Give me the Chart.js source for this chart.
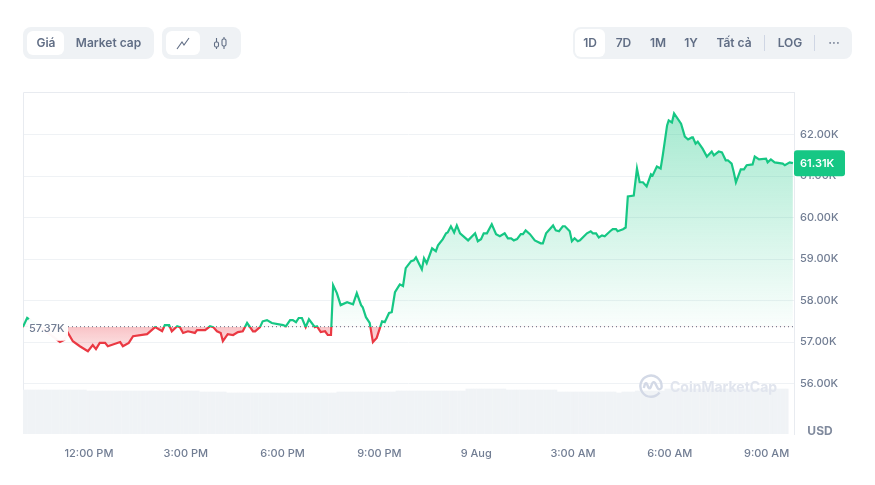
<!DOCTYPE html>
<html>
<head>
<meta charset="utf-8">
<script src="https://cdn.jsdelivr.net/npm/chart.js@4/dist/chart.umd.min.js"></script>
<style>
   html, body { margin: 0; padding: 0; background: #fff; width: 875px; height: 485px; overflow: hidden; }
   body { font-family: Inter, sans-serif; color: #616e85; position: relative; }
   #chart { position: absolute; left: 0; top: 0; }
   .group { position: absolute; top: 27px; height: 32px; background: #eff2f5; border-radius: 8px; }
   .active { position: absolute; background: #fff; border-radius: 6px; }
   .btn { position: absolute; top: 27px; height: 32px; line-height: 32px; font-size: 12px; font-weight: 600; transform: translateX(-50%); white-space: nowrap; }
   .sep { position: absolute; top: 35px; width: 1px; height: 16px; background: #cfd6e4; }
   .icon { position: absolute; top: 35px; }
   #logo { position: absolute; left: 639px; top: 374px; }
   #brand { position: absolute; left: 670px; top: 377px; font-size: 14px; font-weight: 700; line-height: 20px; color: #e1e5ee; }
</style>
</head>
<body>
<canvas id="chart" width="875" height="485"></canvas>

<div class="group" style="left:23px;width:131px"></div>
<div class="active" style="left:27px;top:31px;width:37px;height:24px"></div>
<div class="btn" style="left:46px">Giá</div>
<div class="btn" style="left:108.5px">Market cap</div>

<div class="group" style="left:162px;width:79px"></div>
<div class="active" style="left:166px;top:31px;width:34px;height:24px"></div>
<svg class="icon" style="left:175px" width="16" height="16" viewBox="0 0 16 16" fill="none" stroke="#616e85" stroke-width="1.1">
   <path d="M2 14 L7 7 L9 10 L14 3"/>
</svg>
<svg class="icon" style="left:212px" width="16" height="16" viewBox="0 0 16 16" fill="none" stroke="#616e85" stroke-width="1.1">
   <rect x="2.5" y="7" width="4" height="5" rx="1.5"/><path d="M4.5 3 V7 M4.5 12 V14"/>
   <rect x="10" y="4" width="4" height="7" rx="1.5"/><path d="M12 2 V4 M12 11 V14"/>
</svg>

<div class="group" style="left:573px;width:279px"></div>
<div class="active" style="left:575px;top:29px;width:30px;height:28px"></div>
<div class="btn" style="left:590px">1D</div>
<div class="btn" style="left:623.5px">7D</div>
<div class="btn" style="left:658px">1M</div>
<div class="btn" style="left:691px">1Y</div>
<div class="btn" style="left:734px">Tất cả</div>
<div class="sep" style="left:764px"></div>
<div class="btn" style="left:790px">LOG</div>
<div class="sep" style="left:814px"></div>
<div class="btn" style="left:834px;color:#808a9d">···</div>

<svg id="logo" width="24" height="24" viewBox="0 0 24 24" fill="none" stroke="#d3d9e6" stroke-width="2.4">
   <path d="M20.5 18.5 A10.6 10.6 0 1 1 22.6 12 V13 C22.6 15.5 19.6 16 18.6 14 L16 9 C15 7.6 13.8 8 13.2 9.4 L11.6 13.4 C11 14.6 10 14.6 9.4 13.4 L8 10 C7.4 8.8 6.4 9 5.9 10.2 L4.8 14"/>
</svg>
<div id="brand">CoinMarketCap</div>

<script>
'use strict';

// minutes from 12:00 PM on 8 Aug
var priceMinutes = [-123,-115,-104,-91,-73,-54,-46,-39,-30,-17,-2,7,13,20,30,35,58,63,74,82,
   108,123,136,141,149,154,164,169,175,184,197,201,216,225,231,238,245,249,258,268,
   277,286,294,305,309,318,323,331,340,361,366,374,379,385,390,396,403,409,420,424,
   431,439,444,450,454,461,468,480,491,498,506,509,515,522,528,535,545,550,558,563,
   569,578,584,589,599,604,608,619,623,628,638,645,649,658,664,667,673,679,684,690,
   705,718,723,729,734,740,749,757,764,773,779,785,790,796,803,807,812,820,829,840,
   844,850,863,868,874,881,885,894,898,903,909,913,926,933,937,943,948,954,959,969,
   974,980,983,993,998,1002,1013,1019,1024,1030,1037,1045,1048,1056,1063,1067,1075,1078,1084,1088,
   1101,1108,1114,1121,1123,1128,1132,1141,1149,1158,1162,1171,1177,1184,1188,1195,1199,1203,1212,1218,
   1223,1234,1238,1246,1259,1262,1268,1275,1290,1294,1303,1309];

// BTC price in thousands of USD
var priceValues = [57.36,57.58,57.48,57.38,57.19,57.00,57.05,57.22,57.02,56.90,56.78,56.93,56.83,56.98,56.98,56.90,57.00,56.90,56.98,57.14,
   57.19,57.36,57.26,57.41,57.41,57.26,57.38,57.36,57.22,57.26,57.22,57.29,57.29,57.38,57.36,57.26,57.22,57.02,57.19,57.17,
   57.24,57.26,57.46,57.26,57.26,57.36,57.50,57.53,57.46,57.41,57.38,57.53,57.53,57.48,57.58,57.58,57.36,57.55,57.36,57.38,
   57.24,57.26,57.17,57.17,58.37,58.18,57.89,57.96,57.91,58.18,57.89,57.84,57.60,57.46,57.00,57.10,57.50,57.48,57.70,57.72,
   58.20,58.39,58.35,58.78,58.95,58.97,59.04,58.75,59.02,58.90,59.26,59.19,59.33,59.48,59.62,59.64,59.79,59.64,59.81,59.62,
   59.45,59.62,59.43,59.48,59.62,59.62,59.84,59.60,59.55,59.62,59.50,59.50,59.45,59.48,59.60,59.60,59.69,59.60,59.45,59.38,
   59.38,59.62,59.81,59.69,59.67,59.79,59.79,59.67,59.43,59.50,59.43,59.45,59.62,59.67,59.62,59.62,59.52,59.57,59.55,59.67,
   59.72,59.72,59.67,59.72,59.76,60.51,60.53,61.18,60.85,60.85,60.75,61.04,61.01,61.23,61.18,61.50,62.22,62.34,62.29,62.51,
   62.26,61.95,61.88,61.93,61.93,61.78,61.83,61.66,61.47,61.59,61.50,61.59,61.57,61.38,61.38,61.30,61.09,60.85,61.16,61.16,
   61.26,61.28,61.47,61.40,61.42,61.33,61.40,61.33,61.30,61.26,61.33,61.31];

// 5 minute volume bars, first one sits at volumeStart
var volumeStart = -122;
var volumeStep = 5;
var volumeValues = [
   22,22,22,22,22,22,22,22,22,22,22,22,22,22,22,22,22,22,22,22,22,22,22,22,
   21.5,21.5,21.5,21.5,21.5,21.5,21.5,21.5,21.5,21.5,21.5,21.5,21.5,21.5,21.5,21.5,21.5,21.5,21.5,21.5,21.5,
   21.5,21.5,21.5,21.5,21.5,21.5,21.5,21.5,21.5,21.5,21.5,21.5,21.5,21.5,21.5,21.5,21.5,21.5,21.5,21.5,21.5,
   21,21,21,21,21,21,21,21,21,21,
   20.5,20.5,20.5,20.5,20.5,20.5,20.5,20.5,20.5,20.5,20.5,20.5,20.5,20.5,20.5,20.5,20.5,20.5,20.5,20.5,20.5,
   20.5,20.5,20.5,20.5,20.5,20.5,20.5,20.5,20.5,20.5,20.5,20.5,20.5,20.5,20.5,20.5,20.5,20.5,20.5,20.5,
   21,21,21,21,21,21,21,21,21,21,21,21,21,21,21,21,21,21,21,21,21,21,
   21.5,21.5,21.5,21.5,21.5,21.5,21.5,21.5,21.5,21.5,21.5,21.5,21.5,21.5,21.5,21.5,21.5,21.5,21.5,21.5,21.5,21.5,21.5,21.5,21.5,21.5,
   22.5,22.5,22.5,22.5,22.5,22.5,22.5,22.5,22.5,22.5,22.5,22.5,22.5,22.5,22.5,
   22,22,22,22,22,22,22,22,22,22,22,22,22,22,22,22,22,22,22,
   21,21,21,21,21,21,21,21,21,21,21,21,21,21,21,21,21,21,21,21,21,21,
   20.5,20.5,21,21,21,21,21,
   21.5,21.5,21.5,21.5,21.5,21.5,21.5,21.5,21.5,21.5,21.5,
   22.5,22.5,22.5,22.5,22.5,22.5,22.5,22.5,22.5,22.5,22.5,22.5,22.5,22.5,22.5,22.5,22.5,22.5,22.5,22.5,22.5,22.5,22.5,
   22.5,22.5,22.5,22.5,22.5,22.5,22.5,22.5,22.5,22.5,22.5,22.5,22.5,22.5,22.5,22.5,22.5,22.5,22.5,22.5,22.5,22.5,22.5];

var xTickMinutes = [0, 180, 360, 540, 720, 900, 1080, 1260];
var xTickLabels = ['12:00 PM', '3:00 PM', '6:00 PM', '9:00 PM', '9 Aug', '3:00 AM', '6:00 AM', '9:00 AM'];
var yTicks = [56, 57, 58, 59, 60, 61, 62];

var openPrice = 57.37;
var lastPrice = 61.31;
var baselineStart = -39;
var xMin = -122.7, xMax = 1311;

var GREEN = '#16c784', RED = '#ea3943', TEXT = '#717d93', GRID = '#eff2f5';

var fmt = function (v) { return v.toFixed(2) + 'K'; };

// opening price label, last price tag, USD and the frame
var overlays = {
   id: 'overlays',
   beforeDatasetsDraw: function (chart) {
      var c = chart.ctx, a = chart.chartArea;
      c.save();
      c.strokeStyle = '#e8ebf0';
      c.lineWidth = 1;
      c.beginPath();
      c.moveTo(a.left + 0.5, a.bottom);
      c.lineTo(a.left + 0.5, a.top + 0.5);
      c.lineTo(a.right, a.top + 0.5);
      c.stroke();
      c.restore();
   },
   afterDraw: function (chart) {
      var c = chart.ctx, a = chart.chartArea, y = chart.scales.y;
      var yOpen = y.getPixelForValue(openPrice), yLast = y.getPixelForValue(lastPrice);
      c.save();
      c.textBaseline = 'middle';

      c.fillStyle = 'rgba(255,255,255,0.96)';
      c.beginPath();
      c.roundRect(a.left + 5, yOpen - 9, 40, 23, 4);
      c.fill();
      c.fillStyle = TEXT;
      c.font = '500 11px Inter';
      c.textAlign = 'left';
      c.fillText(fmt(openPrice), a.left + 6, yOpen + 2);

      c.fillStyle = GREEN;
      c.beginPath();
      c.roundRect(a.right, yLast - 13, 51, 26, 3);
      c.fill();
      c.fillStyle = '#fff';
      c.font = '600 11px Inter';
      c.fillText(fmt(lastPrice), a.right + 6, yLast + 0.5);

      c.fillStyle = '#808a9d';
      c.font = '700 12px Inter';
      c.textAlign = 'center';
      c.fillText('USD', 820, a.bottom - 3);
      c.restore();
   }
};

var chart = new Chart(document.getElementById('chart').getContext('2d'), {
   data: {
      datasets: [
         {
            type: 'line',
            order: 1,
            data: priceMinutes.map(function (m, i) { return { x: m, y: priceValues[i] }; }),
            borderColor: GREEN,
            borderWidth: 2.2,
            pointRadius: 0,
            tension: 0,
            fill: { target: { value: openPrice }, above: 'rgba(22,199,132,0.2)', below: 'rgba(234,57,67,0.2)' }
         },
         {
            type: 'line',
            order: 2,
            data: [{ x: baselineStart, y: openPrice }, { x: xMax, y: openPrice }],
            borderColor: '#58667e',
            borderWidth: 1,
            borderDash: [1, 3],
            pointRadius: 0,
            fill: false
         },
         {
            type: 'bar',
            order: 3,
            yAxisID: 'vol',
            data: volumeValues.map(function (v, i) { return { x: volumeStart + i * volumeStep, y: v }; }),
            backgroundColor: '#f0f3f6',
            barThickness: 2.4
         }
      ]
   },
   options: {
      responsive: false,
      animation: false,
      layout: { padding: { left: 23, top: 92 } },
      plugins: { legend: { display: false }, tooltip: { enabled: false } },
      scales: {
         x: {
            type: 'linear',
            offset: false,
            min: xMin,
            max: xMax,
            afterBuildTicks: function (axis) {
               axis.ticks = xTickMinutes.map(function (m) { return { value: m }; });
            },
            afterFit: function (axis) { axis.height = 51; },
            grid: { display: false },
            border: { display: false },
            ticks: {
               autoSkip: false,
               maxRotation: 0,
               padding: 5,
               color: TEXT,
               font: { family: 'Inter', size: 11, weight: 500 },
               callback: function (v, i) { return xTickLabels[i]; }
            }
         },
         y: {
            position: 'right',
            min: 54.785,
            max: 63.025,
            afterBuildTicks: function (axis) {
               axis.ticks = yTicks.map(function (v) { return { value: v }; });
            },
            afterFit: function (axis) { axis.width = 81; },
            grid: { color: GRID, drawTicks: false },
            border: { color: '#e8ebf0' },
            ticks: {
               padding: 6,
               color: TEXT,
               font: { family: 'Inter', size: 11, weight: 500 },
               callback: function (v) { return fmt(v); }
            }
         },
         vol: { display: false, min: 0, max: 171 }
      }
   },
   plugins: [overlays]
});

// the colours split at the opening price, so they need the finished chart area
var area = chart.chartArea, ctx = chart.ctx;
var yOpen = chart.scales.y.getPixelForValue(openPrice);
var stop = (yOpen - area.top) / (area.bottom - area.top);

var lineGrad = ctx.createLinearGradient(0, area.top, 0, area.bottom);
lineGrad.addColorStop(0, GREEN);
lineGrad.addColorStop(stop, GREEN);
lineGrad.addColorStop(stop, RED);
lineGrad.addColorStop(1, RED);

var aboveGrad = ctx.createLinearGradient(0, chart.scales.y.getPixelForValue(62.51), 0, yOpen);
aboveGrad.addColorStop(0, 'rgba(22,199,132,0.38)');
aboveGrad.addColorStop(1, 'rgba(22,199,132,0.02)');

var belowGrad = ctx.createLinearGradient(0, yOpen, 0, chart.scales.y.getPixelForValue(56.78));
belowGrad.addColorStop(0, 'rgba(234,57,67,0.3)');
belowGrad.addColorStop(1, 'rgba(234,57,67,0.12)');

var priceSet = chart.data.datasets[0];
priceSet.borderColor = lineGrad;
priceSet.fill = { target: { value: openPrice }, above: aboveGrad, below: belowGrad };
chart.update('none');
</script>
</body>
</html>
